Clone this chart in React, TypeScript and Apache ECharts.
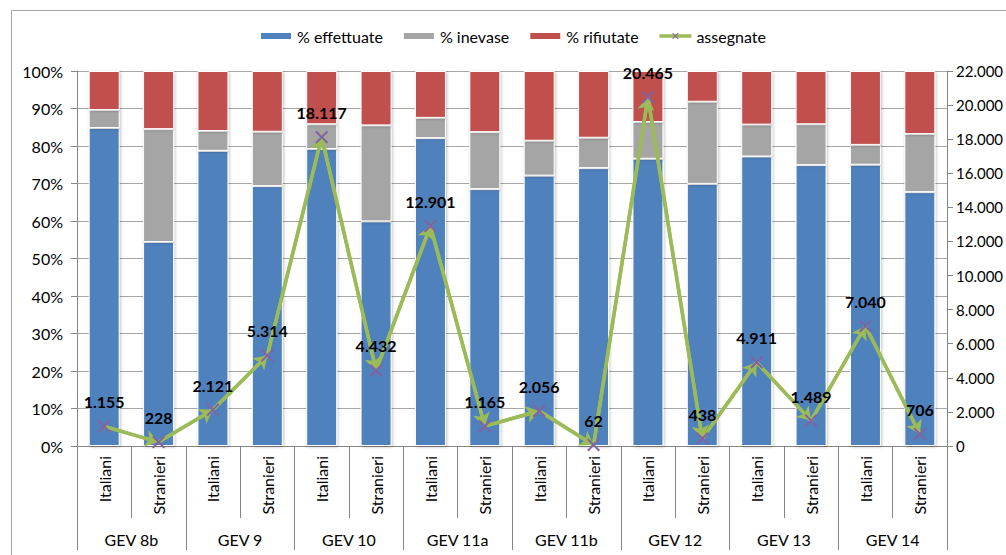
import React, { useEffect, useRef } from 'react';
import * as echarts from 'echarts';

const categories = [
  'Italiani', 'Stranieri', 'Italiani', 'Stranieri', 'Italiani', 'Stranieri', 'Italiani', 'Stranieri',
  'Italiani', 'Stranieri', 'Italiani', 'Stranieri', 'Italiani', 'Stranieri', 'Italiani', 'Stranieri',
];
const groups = ['GEV 8b', 'GEV 9', 'GEV 10', 'GEV 11a', 'GEV 11b', 'GEV 12', 'GEV 13', 'GEV 14'];
const effettuate = [84.8, 54.4, 78.7, 69.3, 79.2, 59.9, 82.1, 68.5, 72.1, 74.1, 76.6, 69.9, 77.2, 74.9, 75.0, 67.7];
const inevase = [4.8, 30.1, 5.3, 14.5, 6.6, 25.6, 5.4, 15.2, 9.3, 8.1, 9.8, 21.9, 8.5, 10.9, 5.3, 15.5];
const rifiutate = [10.4, 15.5, 16.0, 16.2, 14.2, 14.5, 12.5, 16.3, 18.6, 17.8, 13.6, 8.2, 14.3, 14.2, 19.7, 16.8];
const assegnate = [1155, 228, 2121, 5314, 18117, 4432, 12901, 1165, 2056, 62, 20465, 438, 4911, 1489, 7040, 706];
const leftTicks = { min: 0, max: 100, interval: 10 };
const rightTicks = { min: 0, max: 22000, interval: 2000 };

const FONT = 'Lato';
const FS = 16;
const fmt = (v: number) => String(v).replace(/\B(?=(\d{3})+(?!\d))/g, '.');
const CROSS = 'path://M0,1.1 L1.1,0 L5,3.9 L8.9,0 L10,1.1 L6.1,5 L10,8.9 L8.9,10 L5,6.1 L1.1,10 L0,8.9 L3.9,5 Z';

export default function App() {
  const ref = useRef<HTMLDivElement>(null);
  useEffect(() => {
    if (!ref.current) return;
    const chart = echarts.init(ref.current, undefined, { renderer: 'svg' });
    const barStyle = (color: string) => ({
      color,
      borderColor: '#ffffff',
      borderWidth: 1,
      shadowColor: 'rgba(0,0,0,0.25)',
      shadowBlur: 3,
      shadowOffsetX: 1,
      shadowOffsetY: 1,
    });
    const segments = assegnate.slice(1).map((v, i) => [
      { coord: [i, assegnate[i]] },
      { coord: [i + 1, v] },
    ]);
    chart.setOption({
      animation: false,
      backgroundColor: '#ffffff',
      textStyle: { fontFamily: FONT },
      graphic: [
        {
          type: 'rect',
          z: -10,
          shape: { x: 11.5, y: 10.5, width: 1100, height: 600 },
          style: { fill: 'none', stroke: '#A6A6A6', lineWidth: 1 },
        },
      ],
      legend: {
        top: 23,
        left: 254,
        itemWidth: 32,
        itemHeight: 8,
        itemGap: 19,
        textStyle: { fontFamily: FONT, fontSize: FS, color: '#000' },
        data: [
          { name: '% effettuate', icon: 'rect' },
          { name: '% inevase', icon: 'rect' },
          { name: '% rifiutate', icon: 'rect' },
          { name: 'assegnate', lineStyle: { width: 3.5, color: '#9BBB59' } },
        ],
      },
      grid: {
        left: 77,
        right: 59,
        top: 71,
        bottom: 109,
        containLabel: false,
        outerBoundsMode: 'none',
      },
      xAxis: [
        {
          type: 'category',
          position: 'bottom',
          data: categories,
          axisLine: { show: true, lineStyle: { color: '#868686', width: 1 } },
          axisTick: { show: true, interval: 0, length: 72, lineStyle: { color: '#868686' } },
          axisLabel: {
            interval: 0,
            rotate: 90,
            margin: 10,
            fontFamily: FONT,
            fontSize: FS,
            color: '#000',
          },
        },
        {
          type: 'category',
          position: 'bottom',
          data: groups,
          axisLine: { show: false },
          axisTick: { show: true, interval: 0, length: 104, lineStyle: { color: '#868686' } },
          axisLabel: { interval: 0, margin: 85, fontFamily: FONT, fontSize: FS, color: '#000' },
        },
      ],
      yAxis: [
        {
          type: 'value',
          min: leftTicks.min,
          max: leftTicks.max,
          interval: leftTicks.interval,
          axisLine: { show: true, lineStyle: { color: '#868686' } },
          axisTick: { show: true, length: 6, lineStyle: { color: '#868686' } },
          splitLine: { show: true, lineStyle: { color: '#A6A6A6', width: 1 } },
          axisLabel: {
            formatter: '{value}%',
            margin: 14,
            fontFamily: FONT,
            fontSize: FS,
            color: '#000',
          },
        },
        {
          type: 'value',
          min: rightTicks.min,
          max: rightTicks.max,
          interval: rightTicks.interval,
          position: 'right',
          axisLine: { show: true, lineStyle: { color: '#868686' } },
          axisTick: { show: true, length: 6, lineStyle: { color: '#868686' } },
          splitLine: { show: false },
          axisLabel: {
            formatter: (v: number) => fmt(v),
            margin: 9,
            fontFamily: FONT,
            fontSize: 15,
            color: '#000',
          },
        },
      ],
      series: [
        {
          name: '% effettuate',
          type: 'bar',
          stack: 'pct',
          barWidth: 31,
          data: effettuate,
          itemStyle: barStyle('#4F81BD'),
        },
        {
          name: '% inevase',
          type: 'bar',
          stack: 'pct',
          barWidth: 31,
          data: inevase,
          itemStyle: barStyle('#A5A5A5'),
        },
        {
          name: '% rifiutate',
          type: 'bar',
          stack: 'pct',
          barWidth: 31,
          data: rifiutate,
          itemStyle: barStyle('#C0504D'),
        },
        {
          name: 'assegnate',
          type: 'line',
          yAxisIndex: 1,
          data: assegnate,
          symbol: CROSS,
          symbolSize: 13,
          showAllSymbol: true,
          z: 5,
          lineStyle: { color: '#9BBB59', width: 3.5 },
          itemStyle: { color: '#8064A2' },
          label: {
            show: true,
            position: 'top',
            distance: 10,
            formatter: (p: any) => fmt(p.value),
            fontFamily: FONT,
            fontSize: FS,
            fontWeight: 'bold',
            color: '#000',
          },
          markLine: {
            silent: true,
            symbol: ['none', 'arrow'],
            symbolSize: [13, 13],
            label: { show: false },
            lineStyle: { color: '#9BBB59', width: 3.5, type: 'solid' },
            emphasis: { disabled: true },
            data: segments,
          },
        },
      ],
    });
    return () => chart.dispose();
  }, []);
  return (
    <div
      ref={ref}
      style={{ position: 'fixed', left: 0, top: 0, width: 1006, height: 555 }}
    />
  );
}
